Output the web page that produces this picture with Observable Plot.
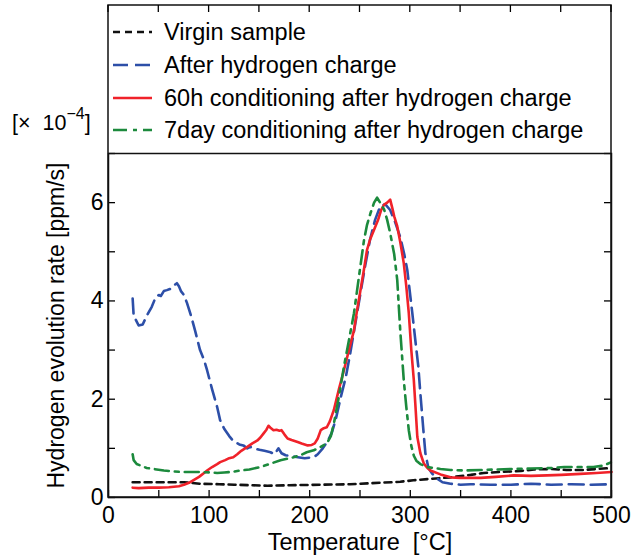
<!DOCTYPE html>
<html>
<head>
<meta charset="utf-8">
<script src="https://cdn.jsdelivr.net/npm/d3@7"></script>
<script src="https://cdn.jsdelivr.net/npm/@observablehq/plot@0.6"></script>
<style>
  html, body { margin: 0; padding: 0; background: white; }
</style>
</head>
<body>
<div id="chart"></div>
<script>
// ---- data (temperature °C, rate ×10^-4 ppm/s) ----
const virgin = [[24,0.31],[40,0.31],[60,0.31],[75,0.31],[91,0.28],[110,0.27],[125,0.26],[141,0.25],[158,0.24],[180,0.25],[211,0.26],[240,0.27],[270,0.3],[290,0.32],[303,0.35],[320,0.38],[340,0.41],[360,0.46],[373,0.5],[390,0.52],[410,0.54],[423,0.57],[440,0.58],[455,0.56],[472,0.56],[485,0.58],[500,0.6]];
const afterCharge = [[24,4.05],[25,3.7],[30,3.5],[34,3.52],[38,3.7],[43,3.88],[47,4.08],[50,4.12],[52,4.1],[55,4.2],[58,4.22],[62,4.25],[66,4.33],[68,4.36],[70,4.3],[72,4.2],[75,4.12],[78,3.96],[82,3.7],[86,3.4],[91,3.0],[95,2.8],[98,2.59],[103,2.2],[108,1.84],[111,1.57],[115,1.4],[120,1.25],[124,1.15],[130,1.08],[134,1.06],[138,1.0],[141,1.03],[145,1.0],[150,0.97],[155,0.95],[161,0.92],[165,0.88],[169,1.0],[172,0.9],[176,0.86],[185,0.83],[195,0.8],[204,0.82],[208,0.88],[213,1.0],[218,1.15],[222,1.32],[226,1.6],[231,2.05],[236,2.46],[240,2.9],[245,3.5],[250,4.1],[255,4.7],[260,5.25],[265,5.65],[270,5.92],[275,5.97],[280,5.85],[285,5.6],[290,5.3],[294,4.95],[297,4.63],[300,4.1],[302,3.75],[305,3.2],[308,2.66],[310,2.12],[313,1.37],[315,0.9],[318,0.6],[322,0.48],[327,0.38],[332,0.31],[340,0.28],[350,0.26],[360,0.27],[380,0.26],[400,0.26],[420,0.28],[440,0.26],[460,0.27],[480,0.26],[500,0.27]];
const cond60h = [[24,0.2],[30,0.19],[40,0.2],[50,0.2],[60,0.21],[70,0.23],[75,0.26],[80,0.3],[85,0.36],[90,0.42],[95,0.5],[98,0.55],[103,0.62],[108,0.68],[111,0.72],[116,0.76],[120,0.8],[124,0.82],[128,0.88],[132,0.95],[138,1.03],[143,1.1],[148,1.16],[151,1.22],[154,1.3],[157,1.38],[159,1.46],[161,1.42],[164,1.37],[167,1.38],[170,1.36],[172,1.37],[175,1.28],[178,1.2],[182,1.17],[185,1.15],[188,1.13],[192,1.1],[195,1.08],[198,1.06],[202,1.07],[205,1.1],[208,1.2],[211,1.37],[214,1.41],[217,1.43],[220,1.55],[224,1.78],[229,2.2],[234,2.59],[239,3.0],[244,3.4],[247,3.8],[250.5,4.22],[254,4.65],[257,5.04],[260,5.25],[264,5.45],[268,5.65],[271,5.85],[274,5.96],[277,6.0],[280,6.06],[282,5.9],[284,5.72],[287,5.52],[290,5.2],[293.5,4.77],[296,4.3],[298.5,3.75],[301,3.0],[303.5,2.39],[305,1.9],[307,1.23],[310,0.9],[313.5,0.69],[317,0.6],[320,0.55],[330,0.47],[340,0.41],[350,0.4],[360,0.4],[370,0.4],[385,0.42],[403,0.45],[420,0.44],[436,0.45],[450,0.46],[469,0.48],[485,0.5],[500,0.52]];
const cond7day = [[24,0.88],[25,0.76],[28,0.68],[32,0.65],[38,0.6],[45,0.58],[55,0.55],[65,0.53],[72,0.52],[80,0.52],[91,0.52],[100,0.51],[108,0.5],[115,0.51],[123,0.52],[131,0.55],[140,0.57],[151,0.62],[160,0.68],[171,0.76],[178,0.79],[184,0.82],[191,0.86],[197,0.92],[204,0.96],[210,1.02],[217,1.1],[221,1.25],[224,1.5],[229,2.05],[234,2.66],[239,3.2],[244,3.75],[249,4.5],[254,5.24],[257,5.55],[260.5,5.79],[264,6.0],[267,6.1],[270,6.0],[274,5.86],[277,5.65],[280,5.38],[284,4.95],[287,4.43],[290,3.4],[293.5,2.39],[296,1.85],[298.5,1.37],[301,1.05],[303.5,0.85],[306,0.75],[310,0.68],[317,0.62],[330,0.58],[340,0.56],[353,0.55],[370,0.56],[385,0.57],[403,0.58],[420,0.59],[440,0.6],[453,0.62],[465,0.62],[482,0.62],[492,0.65],[500,0.72]];

const seriesNames = ["Virgin sample", "After hydrogen charge", "60h conditioning after hydrogen charge", "7day conditioning after hydrogen charge"];
const xTickLabels = [0, 100, 200, 300, 400, 500];
const yTickLabels = [0, 2, 4, 6];
const xMinorTicks = [0, 50, 100, 150, 200, 250, 300, 350, 400, 450, 500];
const yMinorTicks = [0, 1, 2, 3, 4, 5, 6, 7];
const xLabel = "Temperature  [°C]";
const yLabel = "Hydrogen evolution rate [ppm/s]";

// ---- styles ----
const styles = [
  {data: virgin, stroke: "#111111", dash: "7,5"},
  {data: afterCharge, stroke: "#2d4fa8", dash: "15,7"},
  {data: cond60h, stroke: "#f0222a", dash: null},
  {data: cond7day, stroke: "#1c8a3d", dash: "14,6,4,6"}
];

const W = 631, H = 559, ML = 108, MR = 20, MT = 153, MB = 62;
const innerW = W - ML - MR, innerH = H - MT - MB;
const font = "'Liberation Sans', Arial, Helvetica, sans-serif";

const plot = Plot.plot({
  width: W, height: H,
  marginLeft: ML, marginRight: MR, marginTop: MT, marginBottom: MB,
  style: {fontFamily: font, background: "white", color: "black", overflow: "visible"},
  x: {domain: [0, 500]},
  y: {domain: [0, 7]},
  marks: [
    ...styles.map(s => Plot.line(s.data, {
      x: d => d[0], y: d => d[1], stroke: s.stroke, strokeWidth: 2.6,
      strokeDasharray: s.dash, strokeLinejoin: "round", curve: "linear"
    })),
    Plot.tickX(xMinorTicks, {x: d => d, insetTop: innerH - 7, stroke: "black", strokeWidth: 1.3}),
    Plot.tickY(yMinorTicks, {y: d => d, insetRight: innerW - 7, stroke: "black", strokeWidth: 1.3}),
    Plot.tickY(yMinorTicks, {y: d => d, insetLeft: innerW - 7, stroke: "black", strokeWidth: 1.3}),
    Plot.axisX({ticks: xTickLabels, tickSize: 0, tickPadding: 9, fontSize: 23, label: null, tickFormat: d => String(d)}),
    Plot.axisY({ticks: yTickLabels, tickSize: 0, tickPadding: 5, fontSize: 23, label: null, tickFormat: d => String(d)}),
    Plot.text([xLabel], {text: d => d, frameAnchor: "bottom", dy: 45, fontSize: 23.5, lineAnchor: "middle", textAnchor: "middle"}),
    Plot.text([yLabel], {text: d => d, frameAnchor: "left", dx: -52, rotate: -90, fontSize: 23, lineAnchor: "middle", textAnchor: "middle"}),
    Plot.frame({stroke: "#111", strokeWidth: 1.5})
  ]
});

document.getElementById("chart").appendChild(plot);

// ---- outer box, legend, top ticks, exponent label ----
const svg = d3.select(plot);
const xs = plot.scale("x");
const g = svg.append("g").attr("text-anchor", "start");
g.append("rect").attr("x", ML).attr("y", 5).attr("width", innerW).attr("height", MT - 5 + innerH)
  .attr("fill", "none").attr("stroke", "#111").attr("stroke-width", 1.5);
g.selectAll("line.top").data(xMinorTicks).join("line")
  .attr("x1", d => xs.apply(d)).attr("x2", d => xs.apply(d))
  .attr("y1", 5).attr("y2", 12).attr("stroke", "black").attr("stroke-width", 1.3);

const legendRows = [32, 65, 98, 130];
const lg = g.append("g");
styles.forEach((s, i) => {
  lg.append("line").attr("x1", 113).attr("x2", 152).attr("y1", legendRows[i]).attr("y2", legendRows[i])
    .attr("stroke", s.stroke).attr("stroke-width", 2.6).attr("stroke-dasharray", s.dash || null);
  lg.append("text").attr("x", 164).attr("y", legendRows[i]).attr("dy", "0.35em").attr("text-anchor", "start")
    .attr("font-family", font).attr("font-size", 23.5).attr("fill", "black").text(seriesNames[i]);
});

const ex = g.append("text").attr("x", 12).attr("y", 130).attr("text-anchor", "start")
  .attr("font-family", font).attr("font-size", 21.5).attr("fill", "black");
ex.append("tspan").text("[×  10");
ex.append("tspan").attr("dy", -11).attr("font-size", 16).text("−4");
ex.append("tspan").attr("dy", 11).text("]");
</script>
</body>
</html>
